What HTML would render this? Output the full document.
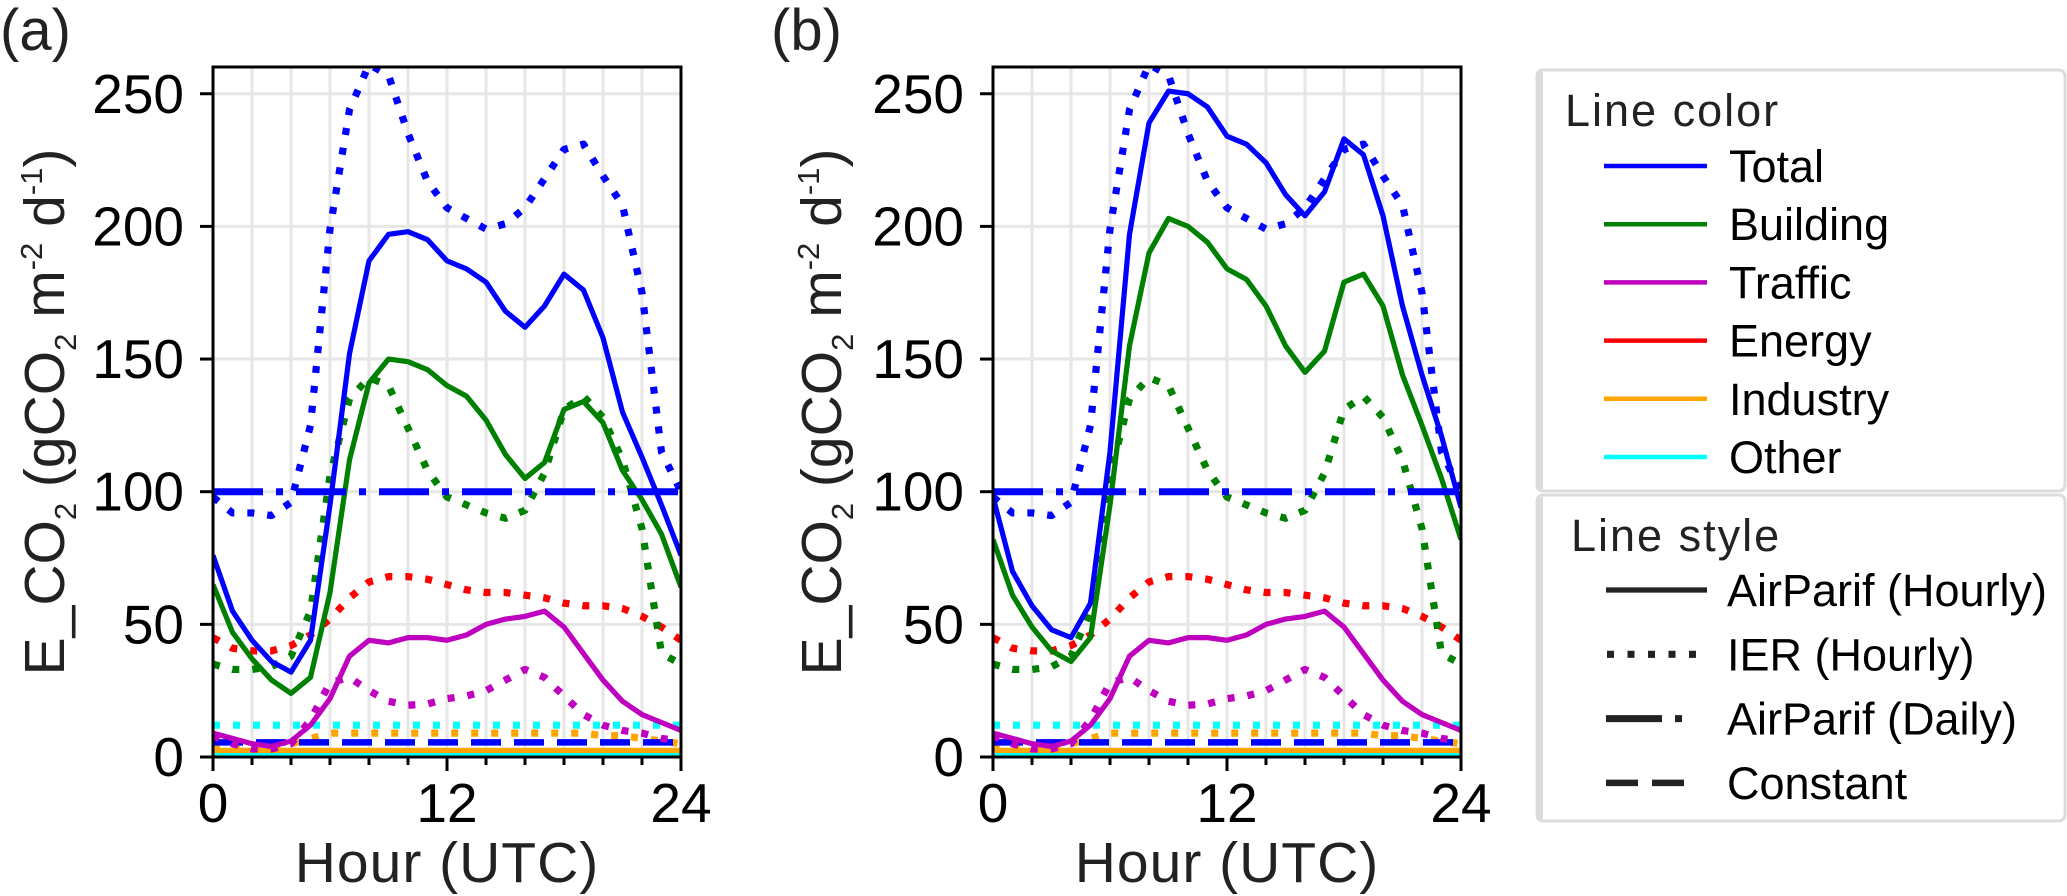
<!DOCTYPE html>
<html><head><meta charset="utf-8">
<style>
html,body{margin:0;padding:0;background:#fff;}
svg{display:block;font-family:"Liberation Sans",Arial,sans-serif;}
</style></head>
<body>
<svg id="chart" width="2067" height="896" viewBox="0 0 2067 896" xmlns="http://www.w3.org/2000/svg"></svg>
<script>
const hours = [0,1,2,3,4,5,6,7,8,9,10,11,12,13,14,15,16,17,18,19,20,21,22,23,24];
const totalHourlyA = [76,55,44,36,32,44,95,152,187,197,198,195,187,184,179,168,162,170,182,176,158,130,113,95,76];
const buildingHourlyA = [65,47,37,29,24,30,62,112,141,150,149,146,140,136,127,114,105,111,131,134,126,108,97,84,64];
const totalHourlyB = [98,70,57,48,45,58,115,197,239,251,250,245,234,231,224,212,204,213,233,227,204,170,144,121,94];
const buildingHourlyB = [82,61,49,40,36,45,95,155,190,203,200,194,184,180,170,155,145,153,179,182,170,144,125,105,82];
const trafficHourly = [9,7,5,4,6,12,22,38,44,43,45,45,44,46,50,52,53,55,49,39,29,21,16,13,10];
const totalIER = [98,92,92,91,96,125,199,244,261,257,235,217,207,203,199,201,207,218,229,231,219,208,175,115,100];
const buildingIER = [35,33,33,34,38,55,106,135,143,140,124,108,98,95,92,90,93,107,131,136,128,112,86,39,35];
const trafficIER = [8,5,3,3,5,14,28,30,25,21,19.5,20,22,23,25,29,33,30,23,16,12,10,9,7,6];
const energyIER = [45,41,40,40,42,46,52,60,66,68,68,67,65,63,62,62,61,60,58,57,57,56,53,49,44];
const industryIER = [5,4,4,4,5,7,9,9,9,9,9,9,9,9,9,9,9,9,9,9,8,8,7,6,5];
const otherIER = [12,12,12,12,12,12,12,12,12,12,12,12,12,12,12,12,12,12,12,12,12,12,12,12,12];
const totalDaily = [100,100];
const totalConstant = [5.5,5.5];
const industryHourly = [2.5,2.5,2.5,2.5,2.5,2.5,2.5,2.5,2.5,2.5,2.5,2.5,2.5,2.5,2.5,2.5,2.5,2.5,2.5,2.5,2.5,2.5,2.5,2.5,2.5];
const otherHourly = [1,1,1,1,1,1.5,1.5,1.5,1.5,1.5,1.5,1.5,1.5,1.5,1.5,1.5,1.5,1.5,1.5,1.5,1.5,1,1,1,1];
const energyHourly = [0.3,0.3,0.3,0.3,0.3,0.3,0.3,0.3,0.3,0.3,0.3,0.3,0.3,0.3,0.3,0.3,0.3,0.3,0.3,0.3,0.3,0.3,0.3,0.3,0.3];
const yTicks = [0,50,100,150,200,250];
const xTicksMajor = [0,12,24];
const xTicksMinor = [2,4,6,8,10,14,16,18,20,22];

const NS = "http://www.w3.org/2000/svg";
const svg = document.getElementById('chart');
function mk(tag, attrs, parent){
  const e = document.createElementNS(NS, tag);
  for (const k in attrs) e.setAttribute(k, attrs[k]);
  (parent||svg).appendChild(e);
  return e;
}
const W = 468, TOP = 67, BOT = 757;
function yScale(v){ return 757 - 2.653*v; }
const STY = {
  solid:{w:5.2,d:null},
  dotted:{w:7.2,d:"7 13"},
  dashdot:{w:7,d:"50 13 7 13"},
  dashed:{w:6.5,d:"30 13"}
};
const panels = [
  {x0:213, label:'(a)', lx:0, ylx:45, tot:totalHourlyA, bld:buildingHourlyA, id:'a'},
  {x0:993, label:'(b)', lx:771, ylx:822, tot:totalHourlyB, bld:buildingHourlyB, id:'b'}
];
panels.forEach(p=>{
  const xScale = h => p.x0 + h*W/24;
  const g = mk('g',{});
  
  
  const defs = mk('defs',{},g);
  const cp = mk('clipPath',{id:'clip'+p.id},defs);
  mk('rect',{x:p.x0,y:TOP,width:W,height:BOT-TOP},cp);
  const grid = mk('g',{stroke:'#e6e6e6','stroke-width':3},g);
  
  
  xTicksMinor.concat([12]).forEach(h=>{ mk('line',{x1:xScale(h),x2:xScale(h),y1:TOP,y2:BOT},grid); });
  yTicks.forEach(v=>{ if(v>0) mk('line',{x1:p.x0,x2:p.x0+W,y1:yScale(v),y2:yScale(v)},grid); });
  const series = [
    {v:energyHourly,c:'#ff0000',s:'solid',n:'energy-airparif-hourly'},
    {v:otherHourly,c:'#00ffff',s:'solid',n:'other-airparif-hourly'},
    {v:industryHourly,c:'#ffa500',s:'solid',n:'industry-airparif-hourly'},
    {v:industryIER,c:'#ffa500',s:'dotted',n:'industry-ier'},
    {v:otherIER,c:'#00ffff',s:'dotted',n:'other-ier'},
    {v:totalConstant,c:'#0000ff',s:'dashed',n:'total-constant',flat:true},
    {v:trafficIER,c:'#bf00bf',s:'dotted',n:'traffic-ier'},
    {v:trafficHourly,c:'#bf00bf',s:'solid',n:'traffic-airparif-hourly'},
    {v:energyIER,c:'#ff0000',s:'dotted',n:'energy-ier'},
    {v:buildingIER,c:'#008000',s:'dotted',n:'building-ier'},
    {v:p.bld,c:'#008000',s:'solid',n:'building-airparif-hourly'},
    {v:totalIER,c:'#0000ff',s:'dotted',n:'total-ier'},
    {v:p.tot,c:'#0000ff',s:'solid',n:'total-airparif-hourly'},
    {v:totalDaily,c:'#0000ff',s:'dashdot',n:'total-airparif-daily',flat:true}
  ];
  const lg = mk('g',{'clip-path':'url(#clip'+p.id+')'},g);
  series.forEach(sr=>{
    let pts;
    if (sr.flat) pts = [[xScale(0),yScale(sr.v[0])],[xScale(24),yScale(sr.v[1])]];
    else pts = sr.v.map((v,i)=>[xScale(hours[i]),yScale(v)]);
    const st = STY[sr.s];
    const pl = mk('polyline',{points:pts.map(q=>q.join(',')).join(' '),fill:'none',stroke:sr.c,'stroke-width':st.w,'stroke-linejoin':'round'},lg);
    if (st.d) pl.setAttribute('stroke-dasharray',st.d);
    
    
  });
  const fr = mk('rect',{x:p.x0,y:TOP,width:W,height:BOT-TOP,fill:'none',stroke:'#000','stroke-width':3},g);
  
  
  yTicks.forEach(v=>{
    mk('line',{x1:p.x0-13,x2:p.x0,y1:yScale(v),y2:yScale(v),stroke:'#000','stroke-width':3},g);
    const t = mk('text',{x:p.x0-29,y:yScale(v)+19,'text-anchor':'end','font-size':55,fill:'#000'},g);
    t.textContent = v;
    
    
  });
  xTicksMinor.forEach(h=>{ mk('line',{x1:xScale(h),x2:xScale(h),y1:BOT,y2:BOT+8,stroke:'#000','stroke-width':3},g); });
  xTicksMajor.forEach(h=>{
    mk('line',{x1:xScale(h),x2:xScale(h),y1:BOT,y2:BOT+14,stroke:'#000','stroke-width':3},g);
    const t = mk('text',{x:xScale(h),y:822,'text-anchor':'middle','font-size':55,fill:'#000'},g);
    t.textContent = h;
    
    
  });
  const xl = mk('text',{x:p.x0+W/2,y:882,'text-anchor':'middle','font-size':57,fill:'#222','letter-spacing':'1'},g);
  xl.textContent = 'Hour (UTC)';
  
  
  const yl = mk('text',{transform:'translate('+(p.ylx+19)+',412) rotate(-90)','text-anchor':'middle','font-size':57,fill:'#222'},g);
  yl.innerHTML = 'E_CO<tspan font-size="31" dy="12">2</tspan><tspan dy="-12"> (gCO</tspan><tspan font-size="31" dy="12">2</tspan><tspan dy="-12"> m</tspan><tspan font-size="31" dy="-22">-2</tspan><tspan dy="22"> d</tspan><tspan font-size="31" dy="-22">-1</tspan><tspan dy="22">)</tspan>';
  
  
  const pl = mk('text',{x:p.lx,y:50,'font-size':58,fill:'#222'},g);
  pl.textContent = p.label;
  
  
});

const legColors = [['Total','#0000ff'],['Building','#008000'],['Traffic','#bf00bf'],['Energy','#ff0000'],['Industry','#ffa500'],['Other','#00ffff']];
const legStyles = [['AirParif (Hourly)','solid'],['IER (Hourly)','dotted'],['AirParif (Daily)','dashdot'],['Constant','dashed']];
const lg1 = mk('g',{});


mk('rect',{x:1537,y:70,width:528,height:421,rx:6,fill:'#fff',stroke:'#dcdcdc','stroke-width':3},lg1);
mk('rect',{x:1536,y:72,width:7,height:417,fill:'#dcdcdc'},lg1);
const t1 = mk('text',{x:1565,y:126,'font-size':45,fill:'#222','letter-spacing':'2'},lg1);
t1.textContent='Line color';


legColors.forEach((c,i)=>{
  const y = 166 + i*58.2;
  const e = mk('g',{},lg1);
  
  
  mk('line',{x1:1604,x2:1707,y1:y,y2:y,stroke:c[1],'stroke-width':4.5},e);
  const t = mk('text',{x:1729,y:y+16,'font-size':45,fill:'#000'},e);
  t.textContent = c[0];
});
const lg2 = mk('g',{});


mk('rect',{x:1537,y:495,width:528,height:326,rx:6,fill:'#fff',stroke:'#dcdcdc','stroke-width':3},lg2);
mk('rect',{x:1536,y:497,width:7,height:322,fill:'#dcdcdc'},lg2);
const t2 = mk('text',{x:1571,y:551,'font-size':45,fill:'#222','letter-spacing':'2'},lg2);
t2.textContent='Line style';


legStyles.forEach((s,i)=>{
  const y = 590 + i*64.3;
  const e = mk('g',{},lg2);
  
  
  const st = STY[s[1]];
  const ln = mk('line',{x1:1606,x2:1707,y1:y,y2:y,stroke:'#222','stroke-width':st.w},e);
  if (s[1]==='dotted') { ln.setAttribute('stroke-dasharray','7 13.5'); ln.setAttribute('x1',1607); ln.setAttribute('x2',1700); }
  if (s[1]==='dashdot') { ln.setAttribute('stroke-dasharray','56 13 7 40'); ln.setAttribute('x2',1686); }
  if (s[1]==='dashed') { ln.setAttribute('stroke-dasharray','32 14'); ln.setAttribute('x2',1686); }
  const t = mk('text',{x:1727,y:y+16,'font-size':45,fill:'#000'},e);
  t.textContent = s[0];
});
</script>
</body></html>
